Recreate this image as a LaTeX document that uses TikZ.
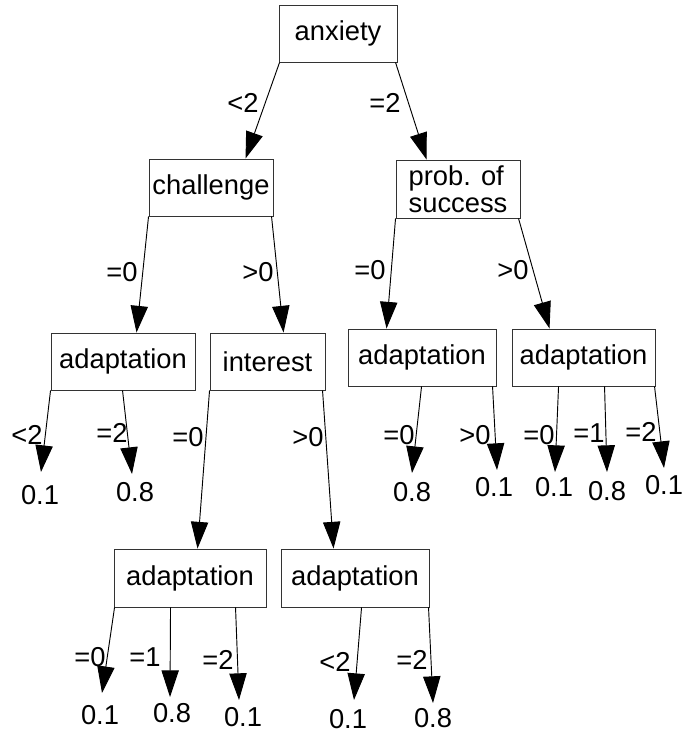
\documentclass[tikz,border=0pt]{standalone}
\usepackage{fontspec}
\setmainfont{Liberation Sans}
\usetikzlibrary{arrows.meta,calc}
\tikzset{
  box/.style={draw=black!80, line width=0.7pt, minimum height=42.75pt, inner sep=0pt, font=\fontsize{20.5}{20.5}\selectfont},
  lbl/.style={inner sep=0pt, font=\fontsize{20.5}{20.5}\selectfont},
  arr/.style={line width=0.7pt, -{Triangle[length=20pt,width=13pt]}}
}
\begin{document}
\begin{tikzpicture}[x=0.75pt,y=-0.75pt]
\useasboundingbox (0,0) rectangle (684,734);
% boxes
\node[box, minimum width=88.5pt] (anx) at (338,33.5) {anxiety};
\node[box, minimum width=93pt] (ch) at (211,187.5) {challenge};
\node[box, minimum width=93pt, minimum height=43.5pt, align=left] (pr) at (458,189) {prob. of\\success};
\node[box, minimum width=108pt] (a1) at (123,361.5) {adaptation};
\node[box, minimum width=86.25pt] (in) at (267.5,361.5) {interest};
\node[box, minimum width=111pt] (a2) at (422,357.5) {adaptation};
\node[box, minimum width=107.25pt] (a3) at (583.5,357.5) {adaptation};
\node[box, minimum width=114pt, minimum height=43.5pt] (a4) at (190,578) {adaptation};
\node[box, minimum width=111pt, minimum height=43.5pt] (a5) at (355,578) {adaptation};
% internal edges
\draw[arr] ($(anx.south west)+(1,0)$) -- ($(ch.north west)+(97,0)$);
\draw[arr] ($(anx.south west)+(117,0)$) -- ($(pr.north west)+(31,0)$);
\draw[arr] ($(ch.south west)+(0,0)$) -- ($(a1.north west)+(86,0)$);
\draw[arr] ($(ch.south west)+(123,0)$) -- ($(in.north west)+(74,0)$);
\draw[arr] ($(pr.south west)+(0,0)$) -- ($(a2.north west)+(39,0)$);
\draw[arr] ($(pr.south west)+(123,0)$) -- ($(a3.north west)+(38,0)$);
\draw[arr] ($(in.south west)+(0,0)$) -- ($(a4.north west)+(84,0)$);
\draw[arr] ($(in.south west)+(113,0)$) -- ($(a5.north west)+(53,0)$);
% internal labels
\node[lbl] (l1) at (243,103) {<2};
\node[lbl] (l2) at (385,103) {=2};
\node[lbl] (l3) at (122,272) {=0};
\node[lbl] (l4) at (258,272) {>0};
\node[lbl] (l5) at (370,270) {=0};
\node[lbl] (l6) at (513,270) {>0};
\node[lbl] (l7) at (188,437) {=0};
\node[lbl] (l8) at (308,437) {>0};
% leaf tips
\coordinate (t1) at (41,472);
\coordinate (t2) at (132,474);
\coordinate (t3) at (412,473);
\coordinate (t4) at (497,470);
\coordinate (t5) at (555,472);
\coordinate (t6) at (607,472);
\coordinate (t7) at (664,468);
\coordinate (t8) at (102,693);
\coordinate (t9) at (170,697);
\coordinate (t10) at (239,700);
\coordinate (t11) at (354,700);
\coordinate (t12) at (433,703);
% leaf edges
\draw[arr] ($(a1.south west)+(0,0)$) -- (t1);
\draw[arr] ($(a1.south west)+(72,0)$) -- (t2);
\draw[arr] ($(a2.south west)+(74,0)$) -- (t3);
\draw[arr] ($(a2.south west)+(145,0)$) -- (t4);
\draw[arr] ($(a3.south west)+(47,0)$) -- (t5);
\draw[arr] ($(a3.south west)+(93,0)$) -- (t6);
\draw[arr] ($(a3.south west)+(143,0)$) -- (t7);
\draw[arr] ($(a4.south west)+(1,0)$) -- (t8);
\draw[arr] ($(a4.south west)+(57,0)$) -- (t9);
\draw[arr] ($(a4.south west)+(122,0)$) -- (t10);
\draw[arr] ($(a5.south west)+(81,0)$) -- (t11);
\draw[arr] ($(a5.south west)+(148,0)$) -- (t12);
% leaf labels
\node[lbl] (e1) at (27,435) {<2};
\node[lbl] (e2) at (112,433) {=2};
\node[lbl] (e3) at (399,435) {=0};
\node[lbl] (e4) at (475,435) {>0};
\node[lbl] (e5) at (539,435) {=0};
\node[lbl] (e6) at (589,433) {=1};
\node[lbl] (e7) at (641,432) {=2};
\node[lbl] (e8) at (90,657) {=0};
\node[lbl] (e9) at (145,657) {=1};
\node[lbl] (e10) at (218,660) {=2};
\node[lbl] (e11) at (335,662) {<2};
\node[lbl] (e12) at (412,660) {=2};
% leaf values
\node[lbl] (v1) at (40,495) {0.1};
\node[lbl] (v2) at (135,492) {0.8};
\node[lbl] (v3) at (412,492) {0.8};
\node[lbl] (v4) at (494,487) {0.1};
\node[lbl] (v5) at (554,487) {0.1};
\node[lbl] (v6) at (607,491) {0.8};
\node[lbl] (v7) at (664,485) {0.1};
\node[lbl] (v8) at (100,715) {0.1};
\node[lbl] (v9) at (172,713) {0.8};
\node[lbl] (v10) at (243,717) {0.1};
\node[lbl] (v11) at (348,719.5) {0.1};
\node[lbl] (v12) at (433,718) {0.8};
\end{tikzpicture}
\end{document}
